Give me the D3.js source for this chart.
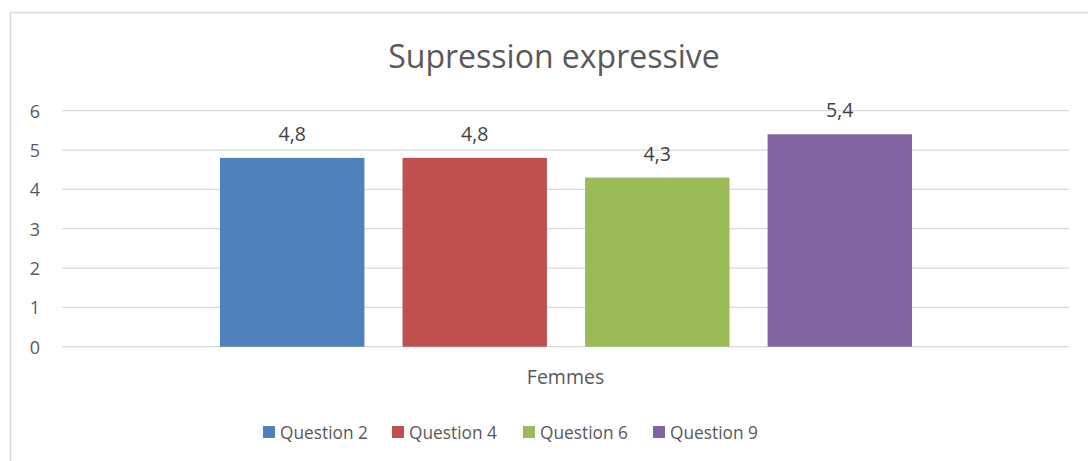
<!DOCTYPE html>
<html><head><meta charset="utf-8">
<script src="https://cdn.jsdelivr.net/npm/d3@7"></script>
<style>body{margin:0;background:#fff;}svg{display:block;font-family:"Open Sans",sans-serif;}</style>
</head><body><svg id="c" width="1088" height="461"></svg>
<script>
const title = "Supression expressive";
const categories = ["Femmes"];
const seriesNames = ["Question 2", "Question 4", "Question 6", "Question 9"];
const seriesValues = [4.8, 4.8, 4.3, 5.4];
const yTicks = [0, 1, 2, 3, 4, 5, 6];
const colors = ["#4F81BD", "#C0504D", "#9BBB59", "#8064A2"];

const FONT = "'Open Sans',sans-serif";
const svg = d3.select("#c");
svg.append("rect").attr("x", 10.5).attr("y", 12.5).attr("width", 1090).attr("height", 460)
  .attr("fill", "#fff").attr("stroke", "#d9d9d9").attr("stroke-width", 1.5);

const plotL = 62, plotR = 1069, plotT = 110.7, plotB = 346.7;
const y = d3.scaleLinear().domain([0, 6]).range([plotB, plotT]);
const x0 = d3.scaleBand().domain(categories).range([plotL, plotR]).paddingInner(0).paddingOuter(0);
const x1 = d3.scaleBand().domain(seriesNames).range([220 - plotL, 912 - plotL]).paddingInner(38/182).paddingOuter(0);

// gridlines
svg.append("g").selectAll("line").data(yTicks).join("line")
  .attr("x1", plotL).attr("x2", plotR).attr("y1", d => y(d)).attr("y2", d => y(d))
  .attr("stroke", "#d9d9d9").attr("stroke-width", 1.3);

// y axis labels
const yAxis = d3.axisLeft(y).tickValues(yTicks).tickFormat(d3.format("d")).tickSize(0).tickPadding(0);
const ga = svg.append("g").attr("transform", `translate(40,0)`).call(yAxis);
ga.select(".domain").remove();
ga.selectAll("text").attr("font-size", 18).attr("fill", "#595959").attr("font-family", FONT).attr("dy", "0.36em");

// bars
const g = svg.append("g").attr("transform", `translate(${x0(categories[0])},0)`);
g.selectAll("rect").data(seriesValues).join("rect")
  .attr("x", (d, i) => x1(seriesNames[i]))
  .attr("width", x1.bandwidth())
  .attr("y", d => y(d)).attr("height", d => y(0) - y(d))
  .attr("fill", (d, i) => colors[i]);
g.selectAll("text").data(seriesValues).join("text")
  .attr("x", (d, i) => x1(seriesNames[i]) + x1.bandwidth() / 2)
  .attr("y", d => y(d) - 17)
  .attr("text-anchor", "middle").attr("font-size", 19.5).attr("fill", "#404040")
  .text(d => d.toFixed(1).replace(".", ","));

// category label
svg.append("text").attr("x", x0(categories[0]) + x0.bandwidth() / 2).attr("y", 384)
  .attr("text-anchor", "middle").attr("font-size", 19.5).attr("fill", "#595959").text(categories[0]);

// title
svg.append("text").attr("x", 554).attr("y", 68).attr("text-anchor", "middle")
  .attr("font-size", 32).attr("fill", "#595959").text(title);

// legend
const legX = [263, 392, 523, 653];
const lg = svg.append("g");
seriesNames.forEach((s, i) => {
  lg.append("rect").attr("x", legX[i]).attr("y", 426).attr("width", 12).attr("height", 12).attr("fill", colors[i]);
  lg.append("text").attr("x", legX[i] + 17).attr("y", 438.5).attr("font-size", 17.3).attr("fill", "#595959").text(s);
});
</script></body></html>
